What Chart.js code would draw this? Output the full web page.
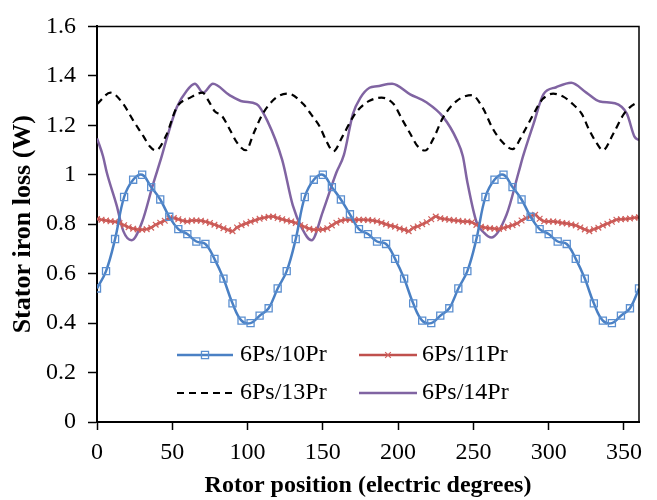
<!DOCTYPE html>
<html lang="en">
<head>
    <meta charset="UTF-8">
    <title>Stator iron loss</title>
    <script src="https://cdn.jsdelivr.net/npm/chart.js"></script>
    <style>
        html, body { margin: 0; padding: 0; background: #fff; }
        #wrap { width: 657px; height: 500px; }
    </style>
</head>
<body>
    <div id="wrap"><canvas id="lossChart"></canvas></div>

    <script>
        // 6Ps/10Pr, sampled every 6 electric degrees (0..360)
        const loss10 = [
            0.54, 0.61, 0.74, 0.91, 0.98, 1.00, 0.95, 0.90, 0.83, 0.78,
            0.76, 0.73, 0.72, 0.66, 0.58, 0.48, 0.41, 0.40, 0.43, 0.46,
            0.54, 0.61, 0.74, 0.91, 0.98, 1.00, 0.95, 0.90, 0.84, 0.78,
            0.76, 0.73, 0.72, 0.66, 0.58, 0.48, 0.41, 0.40, 0.43, 0.46,
            0.54, 0.61, 0.74, 0.91, 0.98, 1.00, 0.95, 0.90, 0.83, 0.78,
            0.76, 0.73, 0.72, 0.66, 0.58, 0.48, 0.41, 0.40, 0.43, 0.46,
            0.54
        ];

        // 6Ps/11Pr, sampled every 3 electric degrees (0..360)
        const loss11 = [
            0.821, 0.818, 0.815, 0.812, 0.810, 0.804, 0.796, 0.788, 0.782, 0.779,
            0.778, 0.780, 0.786, 0.798, 0.806, 0.814, 0.823, 0.825, 0.820, 0.814,
            0.811, 0.815, 0.815, 0.814, 0.810, 0.805, 0.798, 0.792, 0.784, 0.777,
            0.772, 0.787, 0.796, 0.803, 0.810, 0.816, 0.822, 0.826, 0.830, 0.831,
            0.825, 0.820, 0.815, 0.811, 0.805, 0.796, 0.789, 0.782, 0.778, 0.778,
            0.779, 0.784, 0.795, 0.806, 0.814, 0.818, 0.818, 0.818, 0.818, 0.818,
            0.817, 0.815, 0.812, 0.806, 0.800, 0.794, 0.790, 0.783, 0.778, 0.772,
            0.785, 0.791, 0.800, 0.808, 0.820, 0.831, 0.824, 0.821, 0.818, 0.816,
            0.814, 0.811, 0.811, 0.808, 0.797, 0.790, 0.786, 0.784, 0.782, 0.781,
            0.785, 0.790, 0.796, 0.803, 0.815, 0.825, 0.832, 0.838, 0.822, 0.812,
            0.811, 0.811, 0.809, 0.805, 0.803, 0.799, 0.795, 0.787, 0.779, 0.772,
            0.780, 0.786, 0.795, 0.802, 0.810, 0.818, 0.820, 0.821, 0.823, 0.826,
            0.828
        ];

        // 6Ps/13Pr
        const pos13 = [0, 9, 17, 24, 31, 35, 39, 46, 53, 62, 70, 74, 78, 83, 88, 93, 99, 104, 110, 119,
                       127, 137, 142, 148, 152, 157, 163, 170, 175, 181, 189, 197, 203, 208, 213, 218, 223, 230, 239, 249,
                       256, 263, 268, 276, 283, 290, 296, 303, 310, 316, 322, 327, 332, 336, 343, 350, 357, 360];
        const loss13 = [1.286, 1.332, 1.290, 1.220, 1.154, 1.115, 1.098, 1.160, 1.273, 1.312, 1.332, 1.300, 1.258, 1.238, 1.185, 1.130, 1.099, 1.167, 1.246, 1.312,
                        1.328, 1.286, 1.246, 1.194, 1.141, 1.095, 1.154, 1.233, 1.272, 1.299, 1.312, 1.286, 1.220, 1.167, 1.115, 1.098, 1.141, 1.233, 1.299, 1.322,
                        1.273, 1.185, 1.141, 1.104, 1.167, 1.246, 1.306, 1.328, 1.315, 1.286, 1.246, 1.180, 1.127, 1.099, 1.167, 1.246, 1.286, 1.290];

        // 6Ps/14Pr
        const pos14 = [0, 4, 6.5, 13, 17.5, 23, 30, 37, 43, 46, 53, 59.5, 65, 70.5, 77, 88, 97, 106, 113, 123,
                       130, 136, 142.5, 150, 159, 164, 170, 175, 181, 186, 196, 208, 219, 230, 239, 243, 246, 252, 257, 262,
                       272, 280, 283, 290, 296.5, 305, 315, 325, 334, 344, 352, 357, 360];
        const loss14 = [1.147, 1.075, 1.009, 0.877, 0.772, 0.735, 0.810, 0.957, 1.075, 1.140, 1.273, 1.339, 1.368, 1.332, 1.368, 1.322, 1.296, 1.286, 1.220, 1.060,
                        0.877, 0.785, 0.735, 0.851, 1.009, 1.080, 1.246, 1.312, 1.352, 1.358, 1.368, 1.325, 1.292, 1.233, 1.141, 1.075, 0.970, 0.810, 0.766, 0.746,
                        0.838, 1.009, 1.075, 1.207, 1.325, 1.354, 1.372, 1.332, 1.296, 1.289, 1.246, 1.154, 1.140];

        const seriesNames = ['6Ps/10Pr', '6Ps/11Pr', '6Ps/13Pr', '6Ps/14Pr'];
        const xTicks = [0, 50, 100, 150, 200, 250, 300, 350];

        const serif = "'Liberation Serif', Tinos, 'Nimbus Roman', 'Times New Roman', Times, serif";

        function pairs(xs, ys) {
            return ys.map((y, i) => ({ x: xs[i], y: y }));
        }
        const pos10 = loss10.map((_, i) => i * 6);
        const pos11 = loss11.map((_, i) => i * 3);

        // frame on top and right of the plot area
        const framePlugin = {
            id: 'frame',
            afterDatasetsDraw(chart) {
                const a = chart.chartArea;
                const ctx = chart.ctx;
                ctx.save();
                ctx.strokeStyle = '#000';
                ctx.lineWidth = 1.5;
                ctx.beginPath();
                ctx.moveTo(a.left, a.top);
                ctx.lineTo(a.right, a.top);
                ctx.lineTo(a.right, a.bottom);
                ctx.stroke();
                ctx.restore();
            }
        };

        // 2x2 legend drawn inside the plot
        const legendPlugin = {
            id: 'boxLegend',
            afterDraw(chart) {
                const ctx = chart.ctx;
                const slots = [
                    { x1: 177, x2: 233, tx: 240, y: 355 },
                    { x1: 359, x2: 417, tx: 422, y: 355 },
                    { x1: 177, x2: 233, tx: 240, y: 393 },
                    { x1: 359, x2: 417, tx: 422, y: 393 }
                ];
                chart.data.datasets.forEach((ds, i) => {
                    const s = slots[i];
                    ctx.save();
                    ctx.strokeStyle = ds.borderColor;
                    ctx.lineWidth = ds.borderWidth;
                    ctx.setLineDash(ds.borderDash || []);
                    ctx.beginPath();
                    ctx.moveTo(s.x1, s.y);
                    ctx.lineTo(s.x2, s.y);
                    ctx.stroke();
                    ctx.setLineDash([]);
                    if (ds.pointRadius > 0) {
                        ctx.fillStyle = 'rgba(255,255,255,0)';
                        ctx.strokeStyle = ds.pointBorderColor;
                        ctx.lineWidth = ds.pointBorderWidth;
                        Chart.helpers.drawPoint(ctx, {
                            pointStyle: ds.pointStyle,
                            radius: ds.pointRadius,
                            borderWidth: ds.pointBorderWidth,
                            rotation: 0
                        }, (s.x1 + s.x2) / 2, s.y);
                    }
                    ctx.fillStyle = '#000';
                    ctx.font = '24px ' + serif;
                    ctx.textBaseline = 'middle';
                    ctx.textAlign = 'left';
                    ctx.fillText(ds.label, s.tx, s.y);
                    ctx.restore();
                });
            }
        };

        const ctx = document.getElementById('lossChart').getContext('2d');
        const lossChart = new Chart(ctx, {
            type: 'line',
            data: {
                datasets: [
                    {
                        label: seriesNames[0],
                        data: pairs(pos10, loss10),
                        borderColor: '#4a80c4',
                        borderWidth: 2.5,
                        pointStyle: 'rect',
                        pointRadius: 5,
                        pointBorderWidth: 1.3,
                        pointBorderColor: '#5b8fd0',
                        pointBackgroundColor: 'rgba(255,255,255,0)',
                        tension: 0.4,
                        order: 1
                    },
                    {
                        label: seriesNames[1],
                        data: pairs(pos11, loss11),
                        borderColor: '#c0504d',
                        borderWidth: 2.5,
                        pointStyle: 'crossRot',
                        pointRadius: 4,
                        pointBorderWidth: 1.2,
                        pointBorderColor: '#d0605d',
                        tension: 0.4,
                        order: 2
                    },
                    {
                        label: seriesNames[2],
                        data: pairs(pos13, loss13),
                        borderColor: '#000',
                        borderWidth: 2.2,
                        borderDash: [7, 5],
                        pointRadius: 0,
                        cubicInterpolationMode: 'monotone',
                        order: 3
                    },
                    {
                        label: seriesNames[3],
                        data: pairs(pos14, loss14),
                        borderColor: '#8064a2',
                        borderWidth: 2.5,
                        pointRadius: 0,
                        cubicInterpolationMode: 'monotone',
                        order: 4
                    }
                ]
            },
            options: {
                responsive: true,
                maintainAspectRatio: false,
                animation: false,
                layout: { padding: { top: 17, right: 18, left: 0, bottom: 0 } },
                plugins: {
                    legend: { display: false },
                    tooltip: { enabled: false }
                },
                scales: {
                    x: {
                        type: 'linear',
                        min: 0,
                        max: 360,
                        afterFit(scale) { scale.height = 78; },
                        afterBuildTicks(scale) {
                            scale.ticks = xTicks.map(v => ({ value: v }));
                        },
                        ticks: {
                            color: '#000',
                            font: { family: serif, size: 24 },
                            padding: 8,
                            maxRotation: 0,
                            autoSkip: false
                        },
                        grid: {
                            drawOnChartArea: false,
                            color: '#000',
                            tickLength: 8,
                            tickWidth: 1.5
                        },
                        border: { color: '#000', width: 2 },
                        title: {
                            display: true,
                            text: 'Rotor position (electric degrees)',
                            color: '#000',
                            font: { family: serif, size: 24, weight: 'bold' },
                            padding: 0
                        }
                    },
                    y: {
                        min: 0,
                        max: 1.6,
                        afterFit(scale) { scale.width = 97; },
                        ticks: {
                            stepSize: 0.2,
                            color: '#000',
                            font: { family: serif, size: 24 },
                            padding: 12,
                            callback: v => String(Math.round(v * 10) / 10)
                        },
                        grid: {
                            drawOnChartArea: false,
                            color: '#000',
                            tickLength: 9,
                            tickWidth: 1.5
                        },
                        border: { color: '#000', width: 2 },
                        title: {
                            display: true,
                            text: 'Stator iron loss (W)',
                            color: '#000',
                            font: { family: serif, size: 26, weight: 'bold' },
                            padding: { top: 8 }
                        }
                    }
                }
            },
            plugins: [framePlugin, legendPlugin]
        });
    </script>
</body>
</html>
